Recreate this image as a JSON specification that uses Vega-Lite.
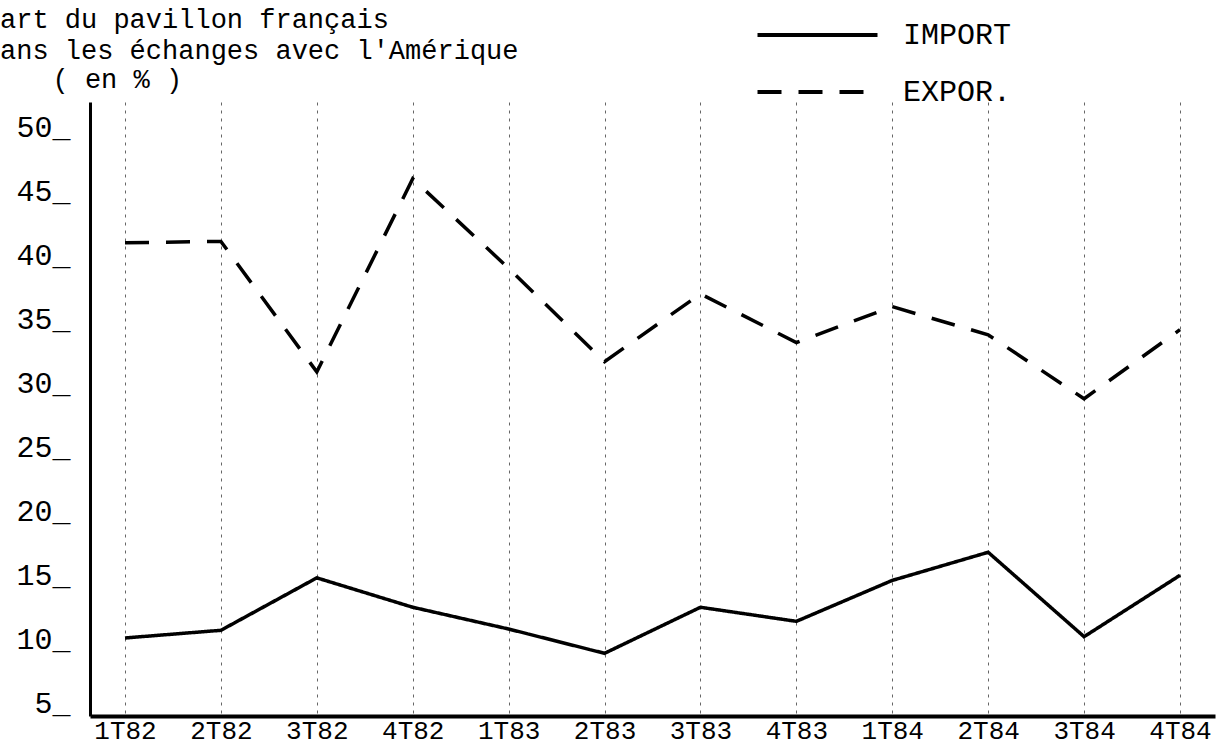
{
  "$schema": "https://vega.github.io/schema/vega-lite/v6.json",
  "width": 1125,
  "height": 614,
  "autosize": {"type": "none"},
  "padding": {"left": 90, "top": 102, "right": 3, "bottom": 30},
  "background": "white",
  "config": {"view": {"stroke": null}, "font": "Liberation Mono"},
  "title": {
    "text": ["art du pavillon français", "ans les échanges avec l'Amérique"],
    "anchor": "start",
    "frame": "group",
    "dx": -90,
    "offset": -45,
    "font": "Liberation Mono",
    "fontSize": 27,
    "fontWeight": "normal",
    "lineHeight": 31,
    "color": "black"
  },
  "data": {
    "values": [
      {"trimestre": "1T82", "flux": "IMPORT", "valeur": 11.1},
      {"trimestre": "2T82", "flux": "IMPORT", "valeur": 11.7},
      {"trimestre": "3T82", "flux": "IMPORT", "valeur": 15.8},
      {"trimestre": "4T82", "flux": "IMPORT", "valeur": 13.5},
      {"trimestre": "1T83", "flux": "IMPORT", "valeur": 11.8},
      {"trimestre": "2T83", "flux": "IMPORT", "valeur": 9.9},
      {"trimestre": "3T83", "flux": "IMPORT", "valeur": 13.5},
      {"trimestre": "4T83", "flux": "IMPORT", "valeur": 12.4},
      {"trimestre": "1T84", "flux": "IMPORT", "valeur": 15.6},
      {"trimestre": "2T84", "flux": "IMPORT", "valeur": 17.8},
      {"trimestre": "3T84", "flux": "IMPORT", "valeur": 11.2},
      {"trimestre": "4T84", "flux": "IMPORT", "valeur": 16.0},
      {"trimestre": "1T82", "flux": "EXPOR.", "valeur": 42.0},
      {"trimestre": "2T82", "flux": "EXPOR.", "valeur": 42.1},
      {"trimestre": "3T82", "flux": "EXPOR.", "valeur": 31.9},
      {"trimestre": "4T82", "flux": "EXPOR.", "valeur": 47.0},
      {"trimestre": "1T83", "flux": "EXPOR.", "valeur": 40.0},
      {"trimestre": "2T83", "flux": "EXPOR.", "valeur": 32.7},
      {"trimestre": "3T83", "flux": "EXPOR.", "valeur": 38.0},
      {"trimestre": "4T83", "flux": "EXPOR.", "valeur": 34.2},
      {"trimestre": "1T84", "flux": "EXPOR.", "valeur": 37.0},
      {"trimestre": "2T84", "flux": "EXPOR.", "valeur": 34.8},
      {"trimestre": "3T84", "flux": "EXPOR.", "valeur": 29.8},
      {"trimestre": "4T84", "flux": "EXPOR.", "valeur": 35.2}
    ]
  },
  "mark": {"type": "line", "strokeWidth": 3.5, "color": "black"},
  "encoding": {
    "x": {
      "field": "trimestre",
      "type": "ordinal",
      "sort": null,
      "scale": {"type": "point", "padding": 0.365},
      "axis": {
        "title": null,
        "grid": true,
        "gridDash": [3, 5],
        "gridColor": "black",
        "gridWidth": 1,
        "gridOpacity": 0.6,
        "domainColor": "black",
        "domainWidth": 4,
        "ticks": false,
        "labelFont": "Liberation Mono",
        "labelFontSize": 26,
        "labelColor": "black",
        "labelPadding": 1,
        "labelAngle": 0,
        "labelBaseline": "top"
      }
    },
    "y": {
      "field": "valeur",
      "type": "quantitative",
      "scale": {"domain": [5, 53], "nice": false, "zero": false},
      "axis": {
        "values": [5, 10, 15, 20, 25, 30, 35, 40, 45, 50],
        "grid": false,
        "ticks": false,
        "domainColor": "black",
        "domainWidth": 3,
        "labelExpr": "datum.label + '_'",
        "labelFont": "Liberation Mono",
        "labelFontSize": 30,
        "labelColor": "black",
        "labelPadding": 20,
        "labelBaseline": "alphabetic",
        "labelOffset": -4,
        "labelFlush": false,
        "title": "( en % )",
        "titleAngle": 0,
        "titleX": -38,
        "titleY": -15,
        "titleAlign": "left",
        "titleBaseline": "alphabetic",
        "titleFont": "Liberation Mono",
        "titleFontSize": 27,
        "titleFontWeight": "normal",
        "titleColor": "black"
      }
    },
    "strokeDash": {
      "field": "flux",
      "type": "nominal",
      "sort": null,
      "scale": {"domain": ["IMPORT", "EXPOR."], "range": [[1, 0], [24, 17]]},
      "legend": {
        "orient": "none",
        "legendX": 712.5,
        "legendY": -82,
        "title": null,
        "symbolType": "M-6,0H6",
        "symbolSize": 400,
        "symbolStrokeWidth": 4,
        "symbolStrokeColor": "black",
        "labelFont": "Liberation Mono",
        "labelFontSize": 30,
        "labelColor": "black",
        "labelOffset": 70.5,
        "rowPadding": 27,
        "encode": {
          "symbols": {
            "update": {
              "strokeDash": {"signal": "datum.value === 'EXPOR.' ? [12, 4] : [1, 0]"}
            }
          }
        }
      }
    }
  }
}
